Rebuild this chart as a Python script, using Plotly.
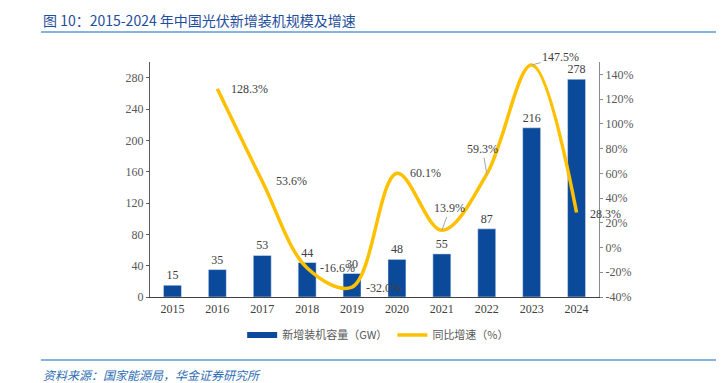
import plotly.graph_objects as go

years = ["2015", "2016", "2017", "2018", "2019", "2020", "2021", "2022", "2023", "2024"]
capacity_gw = [15, 35, 53, 44, 30, 48, 55, 87, 216, 278]
growth_years = ["2016", "2017", "2018", "2019", "2020", "2021", "2022", "2023", "2024"]
growth_pct = [128.3, 53.6, -16.6, -32.0, 60.1, 13.9, 59.3, 147.5, 28.3]
left_ticks = [0, 40, 80, 120, 160, 200, 240, 280]
right_ticks = [-40, -20, 0, 20, 40, 60, 80, 100, 120, 140]

SERIF = "Liberation Serif, Times New Roman, serif"
CJK = "Noto Sans CJK SC, sans-serif"
BLUE = "#0B4A9B"
GOLD = "#FFC000"
GRAY = "#595959"

fig = go.Figure()
fig.add_trace(go.Bar(
    x=years, y=capacity_gw, name="新增装机容量（GW）", showlegend=False,
    marker_color=BLUE, width=0.4,
    text=[str(v) for v in capacity_gw], textposition="outside",
    textfont=dict(family=SERIF, size=12, color="#404040"),
    cliponaxis=False,
))
# legend entry for bars (flat rectangle look)
fig.add_trace(go.Scatter(
    x=[None], y=[None], name="新增装机容量（GW）", mode="lines",
    line=dict(color=BLUE, width=6),
))
fig.add_trace(go.Scatter(
    x=growth_years, y=growth_pct, name="同比增速（%）", yaxis="y2",
    mode="lines", line=dict(color=GOLD, width=3.5, shape="spline", smoothing=1.0),
))

label_cfg = {
    "2016": dict(xshift=12, yshift=0),
    "2017": dict(xshift=12, yshift=0),
    "2018": dict(xshift=11, yshift=0),
    "2019": dict(xshift=12, yshift=-1),
    "2020": dict(xshift=11, yshift=0),
    "2021": dict(arrow=(8, -22)),
    "2022": dict(arrow=(-4, -25)),
    "2023": dict(arrow=(29, -8)),
    "2024": dict(xshift=11, yshift=-1),
}
for yr, v in zip(growth_years, growth_pct):
    cfg = label_cfg[yr]
    txt = f"{v:.1f}%"
    xi = years.index(yr)
    if "arrow" in cfg:
        ax, ay = cfg["arrow"]
        fig.add_annotation(x=xi, y=v, xref="x", yref="y2", text=txt,
                           showarrow=True, arrowhead=0, arrowwidth=1, arrowcolor="#A6A6A6",
                           ax=ax, ay=ay, standoff=0,
                           font=dict(family=SERIF, size=12, color="#404040"))
    else:
        fig.add_annotation(x=xi, y=v, xref="x", yref="y2", text=txt, showarrow=False,
                           xanchor="left", yanchor="middle",
                           xshift=cfg["xshift"], yshift=cfg["yshift"],
                           font=dict(family=SERIF, size=12, color="#404040"))

# Title, rules, source
fig.add_annotation(x=-0.243, y=1.179, xref="paper", yref="paper", xanchor="left", yanchor="middle",
                   text="图 10：2015-2024 年中国光伏新增装机规模及增速", showarrow=False,
                   font=dict(family=CJK, size=14, color="#1F4E9C"))
fig.add_shape(type="line", xref="paper", yref="paper", x0=-0.243, x1=1.3, y0=1.128, y1=1.128,
              line=dict(color="#5B9BD5", width=1.5))
fig.add_shape(type="line", xref="paper", yref="paper", x0=-0.243, x1=1.3, y0=-0.268, y1=-0.268,
              line=dict(color="#5B9BD5", width=1.5))
fig.add_annotation(x=-0.243, y=-0.328, xref="paper", yref="paper", xanchor="left", yanchor="middle",
                   text="<i>资料来源：国家能源局，华金证券研究所</i>", showarrow=False,
                   font=dict(family=CJK, size=12, color="#2E6DB4"))

fig.update_layout(
    width=716, height=375,
    margin=dict(l=141.5, r=124.5, t=54, b=86, autoexpand=False),
    paper_bgcolor="white", plot_bgcolor="white",
    showlegend=True,
    legend=dict(orientation="h", xref="container", yref="container",
                x=0.517, xanchor="center", y=0.128, yanchor="middle",
                font=dict(family=CJK, size=11, color=GRAY), itemwidth=30,
                traceorder="normal", bgcolor="rgba(0,0,0,0)"),
    xaxis=dict(type="category", range=[-0.5, 9.5], showline=True, linecolor="#404040", linewidth=1.2,
               ticks="", tickfont=dict(family=SERIF, size=12, color="#404040"), showgrid=False,
               zeroline=False),
    yaxis=dict(range=[0, 300], tickvals=left_ticks, showline=True, linecolor="#595959", linewidth=1,
               ticks="outside", ticklen=3, tickcolor="#595959",
               tickfont=dict(family=SERIF, size=12, color=GRAY), showgrid=False, zeroline=False),
    yaxis2=dict(range=[-40, 150], tickvals=right_ticks, ticktext=[f"{t}%" for t in right_ticks],
                overlaying="y", side="right", showline=True, linecolor="#8C8C8C", linewidth=1,
                ticks="outside", ticklen=3, tickcolor="#8C8C8C",
                tickfont=dict(family=SERIF, size=12, color=GRAY), showgrid=False, zeroline=False),
)

fig.write_html("out.html")
